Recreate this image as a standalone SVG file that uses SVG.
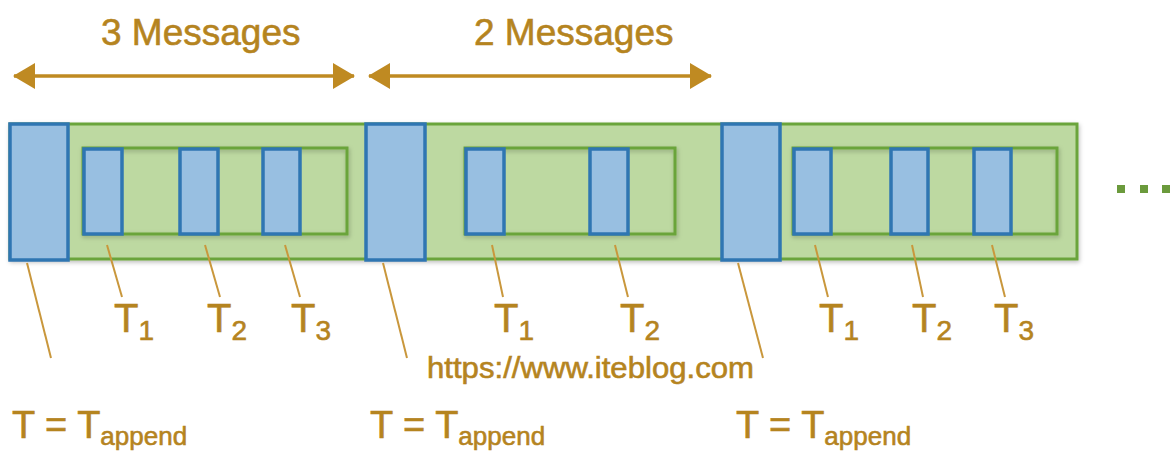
<svg xmlns="http://www.w3.org/2000/svg" width="1172" height="452" viewBox="0 0 1172 452">
<style>
.lbl{font-family:"Liberation Sans",Arial,sans-serif;fill:#b5841f;stroke:#b5841f;stroke-width:0.6}
.blue{fill:#98bfe1;stroke:#2f76b2;stroke-width:3.5}
.green{fill:#bdd9a1;stroke:#6ba43a;stroke-width:3}
.frame{fill:none;stroke:#6ba43a;stroke-width:3}
.lead{stroke:#c9973c;stroke-width:2;fill:none}
.arr{stroke:#bf8a22;stroke-width:3.5;fill:none}
</style>
<defs>
<marker id="ah" viewBox="0 0 22 26" refX="21" refY="13" markerWidth="22" markerHeight="26" markerUnits="userSpaceOnUse" orient="auto-start-reverse">
<path d="M0,0 L22,13 L0,26 Z" fill="#bf8a22"/>
</marker>
<filter id="sh" x="-5%" y="-5%" width="110%" height="115%">
<feDropShadow dx="1" dy="2" stdDeviation="2" flood-color="#000" flood-opacity="0.25"/>
</filter>
</defs>
<g id="band" filter="url(#sh)">
<rect class="green" x="10" y="124" width="1067" height="135"/>
</g>
<g id="segment1">
<rect class="blue" x="10" y="124" width="58" height="136"/>
<rect class="frame" x="83" y="148" width="264" height="86" filter="url(#sh)"/>
<rect class="blue" x="84" y="149" width="38" height="85"/>
<rect class="blue" x="180" y="149" width="38" height="85"/>
<rect class="blue" x="263" y="149" width="37" height="85"/>
</g>
<g id="segment2">
<rect class="blue" x="366" y="124" width="59" height="136"/>
<rect class="frame" x="465" y="148" width="210" height="86" filter="url(#sh)"/>
<rect class="blue" x="466" y="149" width="38" height="85"/>
<rect class="blue" x="590" y="149" width="38" height="85"/>
</g>
<g id="segment3">
<rect class="blue" x="722" y="124" width="58" height="136"/>
<rect class="frame" x="793" y="148" width="264" height="86" filter="url(#sh)"/>
<rect class="blue" x="794" y="149" width="37" height="85"/>
<rect class="blue" x="891" y="149" width="37" height="85"/>
<rect class="blue" x="974" y="149" width="37" height="85"/>
</g>
<g id="connectors">
<line class="arr" x1="14" y1="76" x2="354" y2="76" marker-start="url(#ah)" marker-end="url(#ah)"/>
<line class="arr" x1="369" y1="76" x2="711" y2="76" marker-start="url(#ah)" marker-end="url(#ah)"/>
<line class="lead" x1="27" y1="263" x2="51" y2="358"/>
<line class="lead" x1="107" y1="245" x2="122" y2="297"/>
<line class="lead" x1="205" y1="245" x2="220" y2="297"/>
<line class="lead" x1="285" y1="245" x2="300" y2="297"/>
<line class="lead" x1="383" y1="263" x2="407" y2="358"/>
<line class="lead" x1="492" y1="245" x2="503" y2="297"/>
<line class="lead" x1="615" y1="245" x2="628" y2="297"/>
<line class="lead" x1="738" y1="263" x2="763" y2="358"/>
<line class="lead" x1="815" y1="245" x2="828" y2="297"/>
<line class="lead" x1="912" y1="245" x2="923" y2="297"/>
<line class="lead" x1="992" y1="245" x2="1005" y2="297"/>
</g>
<g id="ellipsis" fill="#6b9a3c">
<rect x="1117" y="185" width="8" height="8"/>
<rect x="1140" y="185" width="8" height="8"/>
<rect x="1162" y="185" width="8" height="8"/>
</g>
<g id="labels" class="lbl">
<text x="101" y="45" font-size="37">3 Messages</text>
<text x="474" y="45" font-size="37">2 Messages</text>
<text x="114" y="332" font-size="40">T<tspan font-size="28" dy="8">1</tspan></text>
<text x="207" y="332" font-size="40">T<tspan font-size="28" dy="8">2</tspan></text>
<text x="291" y="332" font-size="40">T<tspan font-size="28" dy="8">3</tspan></text>
<text x="494" y="332" font-size="40">T<tspan font-size="28" dy="8">1</tspan></text>
<text x="620" y="332" font-size="40">T<tspan font-size="28" dy="8">2</tspan></text>
<text x="819" y="332" font-size="40">T<tspan font-size="28" dy="8">1</tspan></text>
<text x="912" y="332" font-size="40">T<tspan font-size="28" dy="8">2</tspan></text>
<text x="994" y="332" font-size="40">T<tspan font-size="28" dy="8">3</tspan></text>
<text x="427" y="378" font-size="29" textLength="327" lengthAdjust="spacingAndGlyphs">https://www.iteblog.com</text>
<text x="12" y="438" font-size="38">T = T<tspan font-size="26" dy="7">append</tspan></text>
<text x="370" y="438" font-size="38">T = T<tspan font-size="26" dy="7">append</tspan></text>
<text x="736" y="438" font-size="38">T = T<tspan font-size="26" dy="7">append</tspan></text>
</g>
</svg>
